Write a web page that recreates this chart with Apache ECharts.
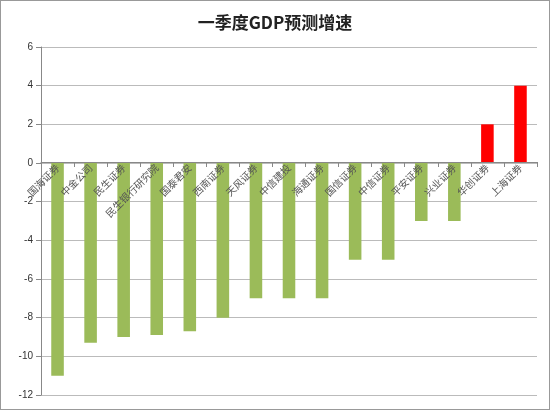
<!DOCTYPE html><html><head><meta charset="utf-8"><script src="https://cdn.jsdelivr.net/npm/echarts@6/dist/echarts.min.js"></script>
<style>body{margin:0;background:#fff}#c{width:550px;height:410px;box-sizing:border-box;border:1px solid #999}</style></head><body><div id="c"></div><script>
const categories=['国海证券','中金公司','民生证券','民生银行研究院','国泰君安','西南证券','天风证券','中信建投','海通证券','国信证券','中信证券','平安证券','兴业证券','华创证券','上海证券'];
const values=[-11,-9.3,-9,-8.9,-8.7,-8,-7,-7,-7,-5,-5,-3,-3,2,4];
const yTicks={min:-12,max:6,interval:2};
const c=echarts.init(document.getElementById('c'));
c.setOption({
title:{text:'一季度GDP预测增速',left:'center',top:8,textStyle:{fontSize:17,fontWeight:'bold',color:'#222',fontFamily:'Noto Sans CJK SC'}},
grid:{left:40,right:12,top:46,bottom:14},
xAxis:{type:'category',data:categories,position:'bottom',offset:-233,z:10,axisLine:{onZero:false,lineStyle:{color:'#888'}},axisTick:{show:true,lineStyle:{color:'#888'}},
axisLabel:{rotate:45,interval:0,fontSize:10,color:'#555',fontFamily:'Noto Sans CJK SC',margin:4}},
yAxis:{type:'value',min:yTicks.min,max:yTicks.max,interval:yTicks.interval,axisLine:{show:true,lineStyle:{color:'#888'}},axisTick:{show:true},
splitLine:{lineStyle:{color:'#bbb'}},axisLabel:{fontSize:10,color:'#333'}},
series:[{type:'bar',data:values.map(v=>({value:v,itemStyle:{color:v>0?'#ff0000':'#9bbb59'}})),barWidth:'38%',z:1}]
});
</script></body></html>
